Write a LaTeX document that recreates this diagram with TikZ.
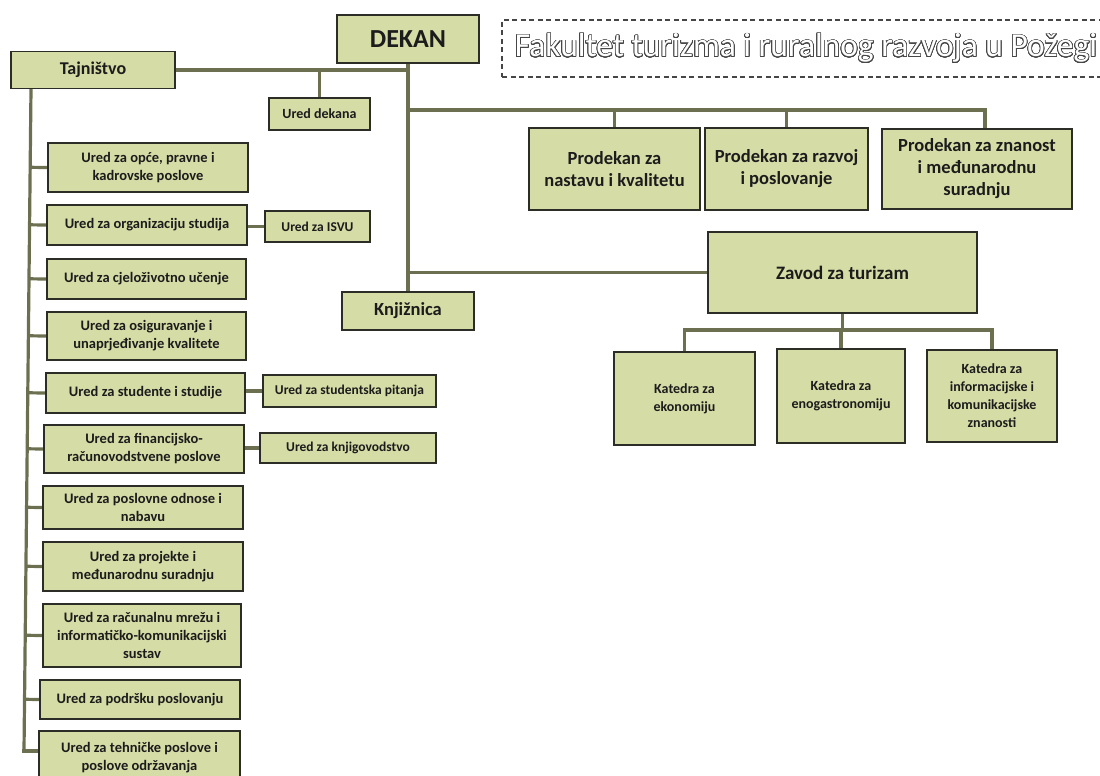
\documentclass[tikz,border=0pt]{standalone}
\usepackage{fontspec}
\setmainfont{Carlito}
\usepackage{contour}
\usetikzlibrary{backgrounds,calc}
\definecolor{boxfill}{RGB}{214,220,166}
\definecolor{boxline}{RGB}{45,45,40}
\definecolor{connc}{RGB}{108,112,80}
\definecolor{txt}{RGB}{28,28,28}
\definecolor{titleline}{RGB}{70,70,70}
\contourlength{0.7pt}
\contournumber{32}
\tikzset{
  unit/.style={draw=boxline, line width=1.6pt, fill=boxfill, text=txt, align=center, inner sep=0pt,
    font=\bfseries\fontsize{14.5}{18}\selectfont},
  bigunit/.style={unit, font=\bfseries\fontsize{18.5}{22}\selectfont},
  smallunit/.style={unit, font=\bfseries\fontsize{13.5}{16}\selectfont},
  conn/.style={draw=connc, line width=3.2pt},
  titlebox/.style={draw=titleline, line width=1.1pt, dash pattern=on 5pt off 3.5pt, inner sep=0pt,
    font=\fontsize{33.5}{38}\selectfont},
}
\begin{document}
\begin{tikzpicture}[x=1pt,y=-1pt]
\useasboundingbox (0,0) rectangle (1100,776);

% title
\node[titlebox, minimum width=608, minimum height=57] (title) at (806,48.5)
  {\contour{titleline}{\textcolor{white}{Fakultet turizma i ruralnog razvoja u Požegi}}};

% top level
\node[unit, minimum width=142, minimum height=48, font=\bfseries\fontsize{26}{30}\selectfont] (dekan) at (408,39) {DEKAN};
\node[bigunit, minimum width=164, minimum height=37, font=\bfseries\fontsize{18}{22}\selectfont] (tajn) at (93,70) {Tajništvo};
\node[unit, minimum width=101, minimum height=32, font=\bfseries\fontsize{14}{17}\selectfont] (ureddek) at (319.5,114) {Ured dekana};

% prodekani
\node[bigunit, minimum width=171, minimum height=82] (prod1) at (614.5,169) {Prodekan za\\nastavu i kvalitetu};
\node[bigunit, minimum width=163, minimum height=82] (prod2) at (786.5,169) {Prodekan za razvoj\\i poslovanje};
\node[bigunit, minimum width=190, minimum height=80] (prod3) at (977,169) {Prodekan za znanost\\i međunarodnu\\suradnju};

% zavod, knjiznica, katedre
\node[bigunit, minimum width=269, minimum height=81, font=\bfseries\fontsize{19}{23}\selectfont] (zavod) at (842.5,272.5) {Zavod za turizam};
\node[bigunit, minimum width=132, minimum height=38] (knjiz) at (408,311) {Knjižnica};
\node[unit, minimum width=141, minimum height=93, font=\bfseries\fontsize{14}{18}\selectfont] (kat1) at (684.5,398.5) {Katedra za\\ekonomiju};
\node[unit, minimum width=128, minimum height=94, font=\bfseries\fontsize{14}{18}\selectfont] (kat2) at (841,396) {Katedra za\\enogastronomiju};
\node[unit, minimum width=130, minimum height=92, font=\bfseries\fontsize{14}{18}\selectfont] (kat3) at (992,396) {Katedra za\\informacijske i\\komunikacijske\\znanosti};

% left column
\node[unit, minimum width=200, minimum height=49] (opce) at (148,167.5) {Ured za opće, pravne i\\kadrovske poslove};
\node[unit, minimum width=200, minimum height=40] (org) at (147,225) {Ured za organizaciju studija};
\node[unit, minimum width=199, minimum height=40] (cjel) at (146.5,279) {Ured za cjeloživotno učenje};
\node[unit, minimum width=199, minimum height=48] (osig) at (146.5,336) {Ured za osiguravanje i\\unaprjeđivanje kvalitete};
\node[unit, minimum width=199, minimum height=40] (stud) at (145.5,393) {Ured za studente i studije};
\node[unit, minimum width=200, minimum height=48] (fin) at (144,449) {Ured za financijsko-\\računovodstvene poslove};
\node[unit, minimum width=200, minimum height=43] (posl) at (143,507.5) {Ured za poslovne odnose i\\nabavu};
\node[unit, minimum width=200, minimum height=49] (proj) at (143,566.5) {Ured za projekte i\\međunarodnu suradnju};
\node[unit, minimum width=198, minimum height=63] (racun) at (142,635.5) {Ured za računalnu mrežu i\\informatičko-komunikacijski\\sustav};
\node[unit, minimum width=200, minimum height=39] (podr) at (140,699.5) {Ured za podršku poslovanju};
\node[unit, minimum width=201, minimum height=54] (tehn) at (139.5,758) {Ured za tehničke poslove i\\poslove održavanja};

% sub offices
\node[smallunit, minimum width=105, minimum height=31] (isvu) at (317.5,226.5) {Ured za ISVU};
\node[smallunit, minimum width=173, minimum height=32] (studpit) at (349.5,391) {Ured za studentska pitanja};
\node[smallunit, minimum width=176, minimum height=30] (knjig) at (348,448) {Ured za knjigovodstvo};

\begin{pgfonlayer}{background}
  % Dekan spine
  \draw[conn] (dekan.south) -- (knjiz.north);
  \draw[conn] (tajn.east) -- (tajn.east -| dekan.south);
  \draw[conn] (ureddek.north |- tajn.east) -- (ureddek.north);
  % prodekani
  \coordinate (pj) at (408,110);
  \draw[conn] (pj) -| ([xshift=8]prod3.north);
  \draw[conn] (prod1.north |- pj) -- (prod1.north);
  \draw[conn] (prod2.north |- pj) -- (prod2.north);
  % zavod
  \draw[conn] (zavod.west -| dekan.south) -- (zavod.west);
  \coordinate (kj) at (842.5,330);
  \draw[conn] (zavod.south) -- (kj);
  \draw[conn] (kat1.north) -- (kat1.north |- kj) -- (kat3.north |- kj) -- (kat3.north);
  \draw[conn] (kat2.north) -- (kat2.north |- kj);
  % left spine
  \coordinate (ltop) at (31,89);
  \coordinate (lbot) at (24,751);
  \draw[conn] (ltop) -- (lbot);
  \foreach \b in {opce,org,cjel,osig,stud,fin,posl,proj,racun,podr}{
    \draw[conn] ($(ltop)!(\b.west)!(lbot)$) -- (\b.west);
  }
  \draw[conn] ([xshift=-1.6]lbot) -- (lbot -| tehn.west);
  % sub offices
  \draw[conn] (isvu.west -| org.east) -- (isvu.west);
  \draw[conn] (studpit.west -| stud.east) -- (studpit.west);
  \draw[conn] (knjig.west -| fin.east) -- (knjig.west);
\end{pgfonlayer}
\end{tikzpicture}
\end{document}
